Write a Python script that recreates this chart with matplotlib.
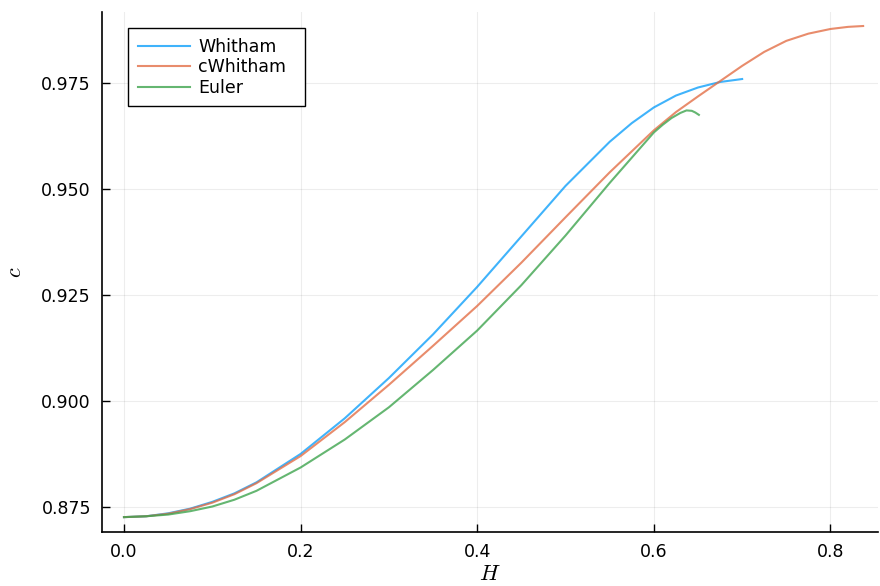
import numpy as np
import matplotlib
matplotlib.use("Agg")
import matplotlib.pyplot as plt

# Data (wave height H vs speed c)
H_whitham = [0.0, 0.025, 0.05, 0.075, 0.1, 0.125, 0.15, 0.2, 0.25, 0.3, 0.35, 0.4, 0.45, 0.5, 0.55, 0.575, 0.6, 0.625, 0.65, 0.675, 0.70]
c_whitham = [0.8726, 0.8728, 0.8735, 0.8746, 0.8762, 0.8782, 0.8808, 0.8875, 0.8959, 0.9054, 0.9157, 0.9269, 0.9388, 0.9507, 0.9611, 0.9655, 0.9692, 0.9720, 0.9739, 0.9752, 0.9759]

H_cwhitham = [0.0, 0.025, 0.05, 0.075, 0.1, 0.125, 0.15, 0.2, 0.25, 0.3, 0.35, 0.4, 0.45, 0.5, 0.55, 0.6, 0.625, 0.65, 0.675, 0.7, 0.725, 0.75, 0.775, 0.8, 0.82, 0.837]
c_cwhitham = [0.8726, 0.8728, 0.8734, 0.8745, 0.8760, 0.8780, 0.8806, 0.8870, 0.8950, 0.9038, 0.9130, 0.9224, 0.9326, 0.9433, 0.9539, 0.9638, 0.9681, 0.9718, 0.9754, 0.9790, 0.9823, 0.9849, 0.9866, 0.9877, 0.9882, 0.9884]

H_euler = [0.0, 0.025, 0.05, 0.075, 0.1, 0.125, 0.15, 0.2, 0.25, 0.3, 0.35, 0.4, 0.45, 0.5, 0.55, 0.6, 0.61, 0.62, 0.63, 0.637, 0.643, 0.647, 0.651]
c_euler = [0.8726, 0.8728, 0.8732, 0.8740, 0.8751, 0.8767, 0.8788, 0.8843, 0.8909, 0.8985, 0.9073, 0.9166, 0.9273, 0.9390, 0.9514, 0.9633, 0.9651, 0.9667, 0.9679, 0.9685, 0.9684, 0.9680, 0.96745]

xticks = [0.0, 0.2, 0.4, 0.6, 0.8]
yticks = [0.875, 0.900, 0.925, 0.950, 0.975]

plt.rcParams['mathtext.fontset'] = 'cm'

fig = plt.figure(figsize=(8.8, 5.86), dpi=100)
ax = fig.add_axes([0.1159, 0.0922, 0.882, 0.8873])

ax.plot(H_whitham, c_whitham, color='#009AFA', lw=1.5, alpha=0.75, label='Whitham')
ax.plot(H_cwhitham, c_cwhitham, color='#E36F47', lw=1.5, alpha=0.8, label='cWhitham')
ax.plot(H_euler, c_euler, color='#3EA44E', lw=1.5, alpha=0.8, label='Euler')

ax.set_xlim(-0.0249, 0.854)
ax.set_ylim(0.8691, 0.9917)
ax.set_xticks(xticks)
ax.set_xticklabels([f"{t:.1f}" for t in xticks])
ax.set_yticks(yticks)
ax.set_yticklabels([f"{t:.3f}" for t in yticks])
ax.tick_params(direction='in', length=6, width=1, labelsize=12.5, pad=8)
ax.grid(True, color='#000000', alpha=0.07, lw=0.8)

ax.spines['top'].set_visible(False)
ax.spines['right'].set_visible(False)
for s in ['left', 'bottom']:
    ax.spines[s].set_linewidth(1.2)

ax.set_xlabel(r'$H$', fontsize=16, labelpad=2)
ax.set_ylabel(r'$c$', fontsize=16, labelpad=12)

leg = ax.legend(loc='upper left', bbox_to_anchor=(0.0335, 0.969, 0.228, 0.0), mode='expand',
                fontsize=12.5, frameon=True,
                fancybox=False, edgecolor='black', framealpha=1, handlelength=3.0,
                handletextpad=0.5, labelspacing=0.15, borderpad=0.55, borderaxespad=0)
leg.get_frame().set_linewidth(1.0)

fig.savefig('out.png', dpi=100)
